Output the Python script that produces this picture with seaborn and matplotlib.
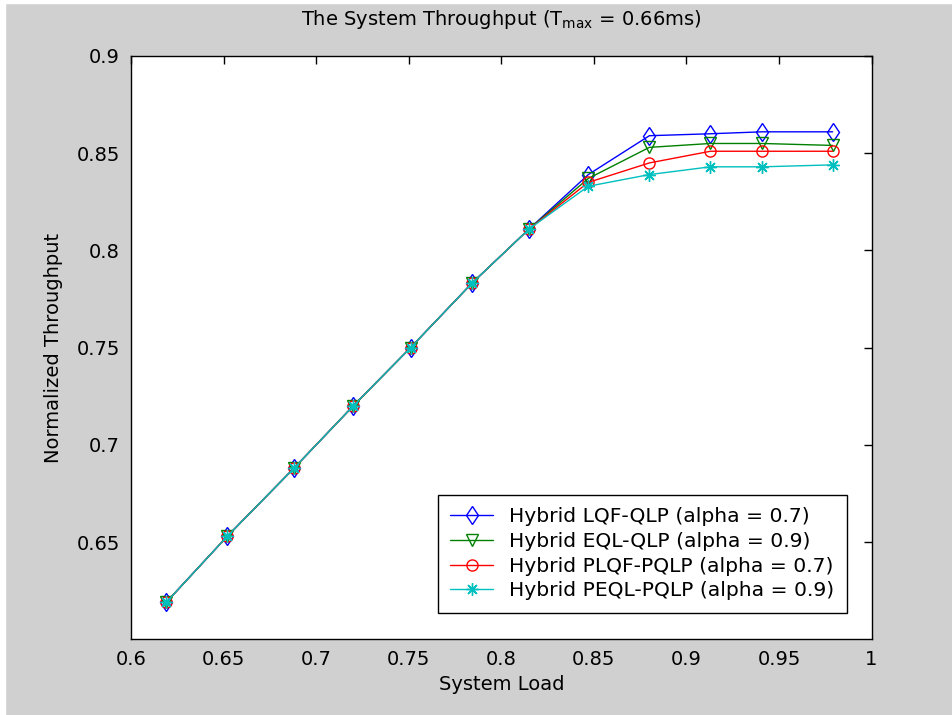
import matplotlib
matplotlib.use("Agg")
import matplotlib.pyplot as plt
import seaborn as sns
import pandas as pd
from matplotlib.patches import Rectangle

# ---- data ----
system_load = [0.619, 0.652, 0.688, 0.720, 0.751, 0.784, 0.815, 0.847, 0.880, 0.913, 0.941, 0.979]
lqf_qlp   = [0.619, 0.653, 0.688, 0.720, 0.750, 0.783, 0.811, 0.839, 0.859, 0.860, 0.861, 0.861]
eql_qlp   = [0.619, 0.653, 0.688, 0.720, 0.750, 0.783, 0.811, 0.837, 0.853, 0.855, 0.855, 0.854]
plqf_pqlp = [0.619, 0.653, 0.688, 0.720, 0.750, 0.783, 0.811, 0.835, 0.845, 0.851, 0.851, 0.851]
peql_pqlp = [0.619, 0.653, 0.688, 0.720, 0.750, 0.783, 0.811, 0.833, 0.839, 0.843, 0.843, 0.844]
series_names = ["Hybrid LQF-QLP (alpha = 0.7)", "Hybrid EQL-QLP (alpha = 0.9)",
                "Hybrid PLQF-PQLP (alpha = 0.7)", "Hybrid PEQL-PQLP (alpha = 0.9)"]
x_ticks = [0.6, 0.65, 0.7, 0.75, 0.8, 0.85, 0.9, 0.95, 1]
x_tick_labels = ["0.6", "0.65", "0.7", "0.75", "0.8", "0.85", "0.9", "0.95", "1"]
y_ticks = [0.65, 0.7, 0.75, 0.8, 0.85, 0.9]
y_tick_labels = ["0.65", "0.7", "0.75", "0.8", "0.85", "0.9"]

sns.set_style("white")
plt.rcParams['font.family'] = ['DejaVu Sans']
plt.rcParams['mathtext.fontset'] = 'dejavusans'
for k in ['text.color', 'axes.labelcolor', 'xtick.color', 'ytick.color']:
    plt.rcParams[k] = 'black'

FS = 14

fig = plt.figure(figsize=(9.53, 7.15), dpi=100, facecolor='#d0d0d0')
fig.patches.append(Rectangle((0, 0), 5/953, 1, transform=fig.transFigure, color='white', zorder=-1))
fig.patches.append(Rectangle((0, 1-3/715), 1, 3/715, transform=fig.transFigure, color='white', zorder=-1))
ax = fig.add_axes([0.1375, 0.1059, 0.777, 0.8158])
ax.set_facecolor('white')

styles = [
    (lqf_qlp, '#0000ff', 'd', 9.5),
    (eql_qlp, '#008000', 'v', 8.5),
    (plqf_pqlp, '#ff0000', 'o', 8),
    (peql_pqlp, '#00bfbf', (8, 2, 0), 9),
]
for (vals, col, mk, ms), name in zip(styles, series_names):
    df = pd.DataFrame({"load": system_load, "thr": vals})
    sns.lineplot(data=df, x="load", y="thr", ax=ax, color=col, marker=mk,
                 markersize=ms, markerfacecolor='none', markeredgecolor=col,
                 markeredgewidth=1.0, linewidth=1.0, label=name)

ax.set_xlim(0.6, 1.0)
ax.set_ylim(0.6, 0.9)
ax.set_xticks(x_ticks)
ax.set_xticklabels(x_tick_labels)
ax.set_yticks(y_ticks)
ax.set_yticklabels(y_tick_labels)
ax.tick_params(direction='in', length=6, width=1, labelsize=FS, colors='black',
               top=True, right=True, pad=8)
for s in ax.spines.values():
    s.set_visible(True)
    s.set_color('black')
    s.set_linewidth(1.0)

ax.set_xlabel("System Load", fontsize=FS, labelpad=4)
ax.set_ylabel("Normalized Throughput", fontsize=FS, labelpad=10)
ax.set_title(r"The System Throughput (T$_{\mathrm{max}}$ = 0.66ms)", fontsize=FS, pad=22)

leg = ax.legend(loc='lower right', bbox_to_anchor=(0.9667, 0.045), fontsize=14.6,
                frameon=True, fancybox=False, edgecolor='black', framealpha=1,
                handlelength=2.1, borderpad=0.62, labelspacing=0.28, handletextpad=0.8,
                borderaxespad=0)
leg.get_frame().set_linewidth(1.0)

fig.savefig("out.png", dpi=100, facecolor=fig.get_facecolor())
